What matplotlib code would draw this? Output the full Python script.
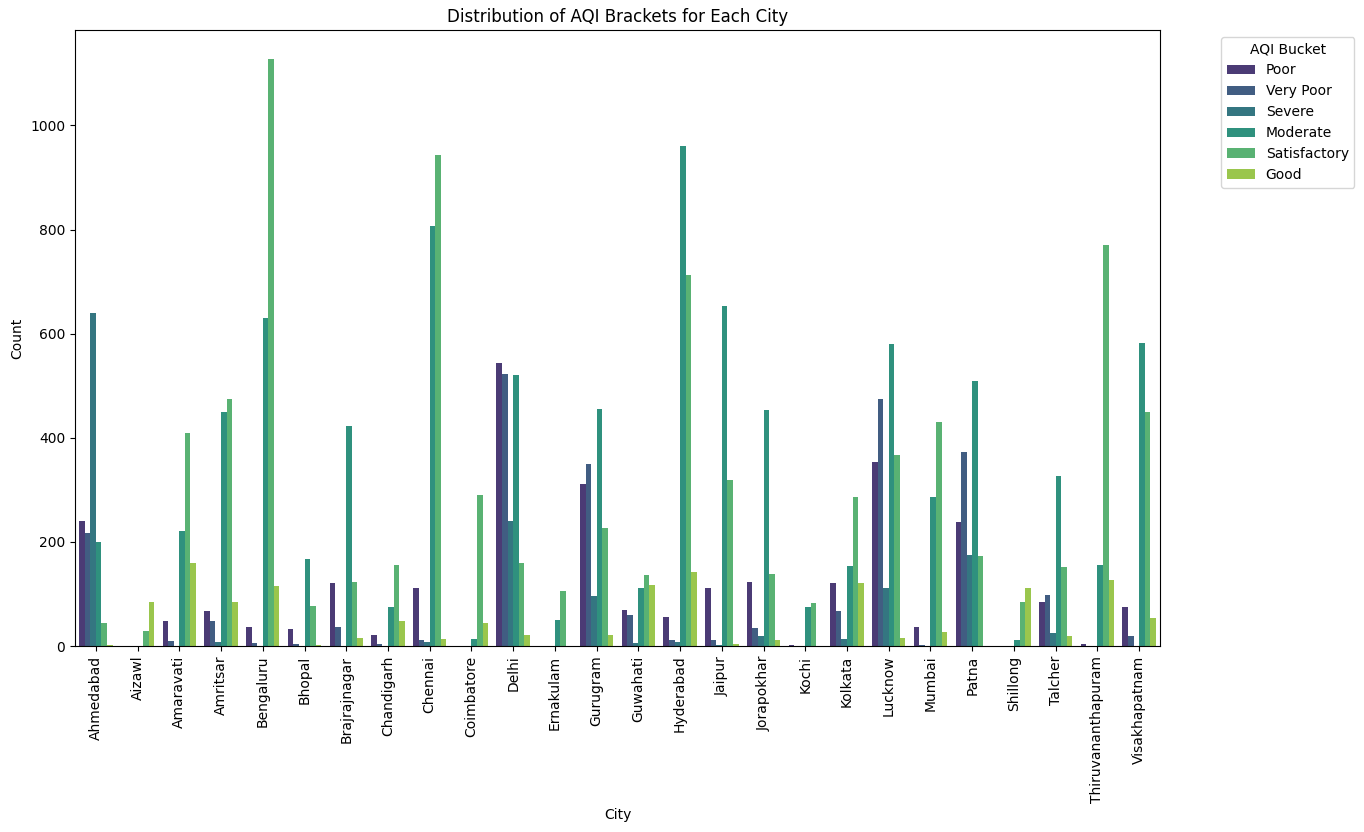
import numpy as np
import pandas as pd
import matplotlib
matplotlib.use("Agg")
import matplotlib.pyplot as plt
import seaborn as sns

cities = ['Ahmedabad', 'Aizawl', 'Amaravati', 'Amritsar', 'Bengaluru', 'Bhopal',
          'Brajrajnagar', 'Chandigarh', 'Chennai', 'Coimbatore', 'Delhi', 'Ernakulam',
          'Gurugram', 'Guwahati', 'Hyderabad', 'Jaipur', 'Jorapokhar', 'Kochi',
          'Kolkata', 'Lucknow', 'Mumbai', 'Patna', 'Shillong', 'Talcher',
          'Thiruvananthapuram', 'Visakhapatnam']
buckets = ['Poor', 'Very Poor', 'Severe', 'Moderate', 'Satisfactory', 'Good']

poor = [240, 0, 48, 67, 36, 33, 121, 21, 111, 0, 543, 0, 311, 69, 56, 111, 123, 2, 121, 353, 36, 238, 0, 84, 4, 75]
very_poor = [217, 0, 10, 48, 6, 4, 36, 4, 12, 0, 522, 0, 349, 60, 12, 12, 35, 0, 67, 474, 2, 372, 0, 98, 0, 19]
severe = [639, 0, 0, 8, 0, 0, 0, 0, 8, 0, 240, 0, 96, 6, 8, 2, 19, 0, 13, 111, 0, 175, 0, 25, 0, 0]
moderate = [200, 0, 220, 449, 631, 167, 422, 75, 806, 13, 520, 50, 455, 111, 960, 653, 453, 75, 154, 580, 286, 509, 12, 326, 156, 582]
satisfactory = [44, 29, 410, 474, 1127, 77, 123, 156, 944, 290, 159, 106, 226, 136, 712, 319, 138, 82, 286, 367, 430, 173, 84, 152, 770, 449]
good = [2, 84, 159, 84, 115, 2, 15, 48, 13, 44, 21, 0, 21, 117, 142, 4, 12, 0, 121, 15, 27, 0, 111, 19, 127, 54]

counts = [poor, very_poor, severe, moderate, satisfactory, good]
rows = []
for b, vals in zip(buckets, counts):
    for c, v in zip(cities, vals):
        rows.append({'City': c, 'AQI Bucket': b, 'Count': v})
df = pd.DataFrame(rows)

fig = plt.figure(figsize=(13.64, 8.32), dpi=100)
ax = fig.add_axes([75 / 1364, 186 / 832, 1085 / 1364, 616 / 832])
sns.barplot(data=df, x='City', y='Count', hue='AQI Bucket', order=cities,
            hue_order=buckets, palette='viridis', errorbar=None, ax=ax)
ax.set_title('Distribution of AQI Brackets for Each City')
ax.set_xlabel('City')
ax.set_ylabel('Count')
ax.tick_params(axis='x', rotation=90)
ax.legend(title='AQI Bucket', bbox_to_anchor=(1.05, 1), loc='upper left')

fig.savefig('out.png', dpi=100)
